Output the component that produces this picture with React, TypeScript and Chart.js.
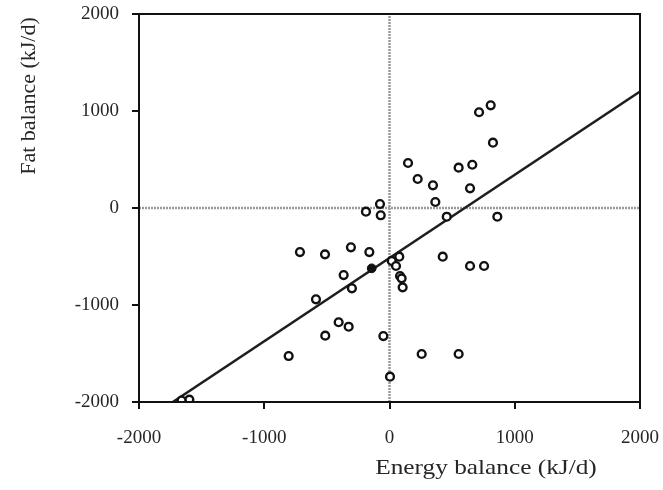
import React, { useEffect, useRef } from 'react';
import { Chart, registerables } from 'chart.js';
Chart.register(...registerables);

// Open-circle subjects: energy balance (x) and fat balance (y), kJ/d
const openX = [715, 808, 826, 148, 225, 347, 552, 661, 643, 366, 457, 861, -188, -76, -70, 78, 18, 52, 84, 97, 105, 425, 643, 755, 257, 552, -49, 4, -715, -515, -308, -161, -366, -300, -587, -406, -326, -513, -805, -1598, -1660];
const openY = [987, 1059, 673, 464, 299, 234, 416, 446, 203, 62, -90, -90, -38, 41, -75, -502, -546, -598, -701, -725, -818, -502, -598, -598, -1505, -1505, -1320, -1739, -454, -478, -405, -454, -691, -828, -941, -1178, -1224, -1316, -1526, -1975, -1985];
// Filled (mean) point
const filledX = [-142];
const filledY = [-622];
// Regression line end points
const fitX = [-1730, 2000];
const fitY = [-2000, 1200];
// Zero reference lines
const zeroSpan = [-2000, 2000];
// Axis ticks
const axisTicks = [-2000, -1000, 0, 1000, 2000];
const xTitle = 'Energy balance (kJ/d)';
const yTitle = 'Fat balance (kJ/d)';

const FONT = "'Liberation Serif', 'Times New Roman', Times, serif";

const framePlugin = {
  id: 'frameAndTitles',
  afterDatasetsDraw(chart: any) {
    const { ctx, chartArea: a } = chart;
    ctx.save();
    ctx.strokeStyle = '#111';
    ctx.lineWidth = 2;
    ctx.strokeRect(a.left, a.top, a.right - a.left, a.bottom - a.top);
    ctx.restore();
  },
  afterDraw(chart: any) {
    const { ctx, chartArea: a } = chart;
    ctx.save();
    ctx.fillStyle = '#262626';
    ctx.font = `22px ${FONT}`;
    ctx.textAlign = 'center';
    ctx.textBaseline = 'middle';
    const cx = a.left + (a.right - a.left) * 0.6926;
    const cy = a.bottom + 66;
    ctx.save();
    ctx.translate(cx, cy);
    ctx.scale(1.15, 1);
    ctx.fillText(xTitle, 0, 0);
    ctx.restore();
    ctx.save();
    ctx.translate(29, a.top + 82);
    ctx.rotate(-Math.PI / 2);
    ctx.fillText(yTitle, 0, 0);
    ctx.restore();
    ctx.restore();
  },
};

export default function App() {
  const ref = useRef<HTMLCanvasElement | null>(null);
  useEffect(() => {
    if (!ref.current) return;
    let chart: any = null;
    let cancelled = false;
    const build = () => {
      if (cancelled || !ref.current) return;
      const pts = (xs: number[], ys: number[]) => xs.map((x, i) => ({ x, y: ys[i] }));
      const tickOpts = {
        color: '#262626',
        font: { family: FONT, size: 19 },
        callback: (v: any) => String(v),
      };
      const setTicks = (s: any) => {
        s.ticks = axisTicks.map((v) => ({ value: v }));
      };
      chart = new Chart(ref.current, {
        type: 'scatter',
        data: {
          datasets: [
            {
              data: pts(openX, openY),
              pointStyle: 'circle',
              pointRadius: 3.9,
              borderWidth: 2.4,
              borderColor: '#111',
              backgroundColor: '#fff',
              order: 0,
            },
            {
              data: pts(filledX, filledY),
              pointRadius: 4.4,
              borderWidth: 1,
              borderColor: '#111',
              backgroundColor: '#111',
              order: 0,
            },
            {
              type: 'line',
              data: pts(fitX, fitY),
              borderColor: '#1e1e1e',
              borderWidth: 2.5,
              pointRadius: 0,
              fill: false,
              order: 1,
            } as any,
            {
              type: 'line',
              data: pts([0, 0], zeroSpan),
              borderColor: '#9a9a9a',
              borderWidth: 2.5,
              borderDash: [2, 1],
              pointRadius: 0,
              fill: false,
              order: 2,
            } as any,
            {
              type: 'line',
              data: pts(zeroSpan, [0, 0]),
              borderColor: '#9a9a9a',
              borderWidth: 2.5,
              borderDash: [2, 1],
              pointRadius: 0,
              fill: false,
              order: 2,
            } as any,
          ],
        },
        options: {
          animation: false,
          responsive: false,
          maintainAspectRatio: false,
          layout: { padding: { top: 14, right: 23, left: 0, bottom: 0 } },
          plugins: { legend: { display: false }, tooltip: { enabled: false } },
          scales: {
            x: {
              type: 'linear',
              min: -2000,
              max: 2000,
              afterBuildTicks: setTicks,
              afterFit: (s: any) => {
                s.height = 88;
                s.paddingLeft = 0; s.paddingRight = 0; s.paddingTop = 0; s.paddingBottom = 0;
              },
              grid: { drawOnChartArea: false, drawTicks: true, tickLength: 7, color: '#111', lineWidth: 2 },
              border: { display: false },
              ticks: { ...tickOpts, padding: 18, maxRotation: 0 },
            },
            y: {
              type: 'linear',
              min: -2000,
              max: 2000,
              afterBuildTicks: setTicks,
              afterFit: (s: any) => {
                s.width = 139;
                s.paddingLeft = 0; s.paddingRight = 0; s.paddingTop = 0; s.paddingBottom = 0;
              },
              grid: { drawOnChartArea: false, drawTicks: true, tickLength: 7, color: '#111', lineWidth: 2 },
              border: { display: false },
              ticks: { ...tickOpts, padding: 13 },
            },
          },
        },
        plugins: [framePlugin],
      } as any);
    };
    const fonts: any = (document as any).fonts;
    if (fonts && fonts.load) {
      Promise.all([
        fonts.load(`19px 'Liberation Serif'`),
        fonts.load(`22px 'Liberation Serif'`),
      ]).then(build, build);
    } else {
      build();
    }
    return () => {
      cancelled = true;
      if (chart) chart.destroy();
    };
  }, []);
  return (
    <div style={{ position: 'fixed', left: 0, top: 0, width: 663, height: 490, background: '#fff' }}>
      <canvas ref={ref} width={663} height={490} style={{ width: 663, height: 490, display: 'block' }} />
    </div>
  );
}
